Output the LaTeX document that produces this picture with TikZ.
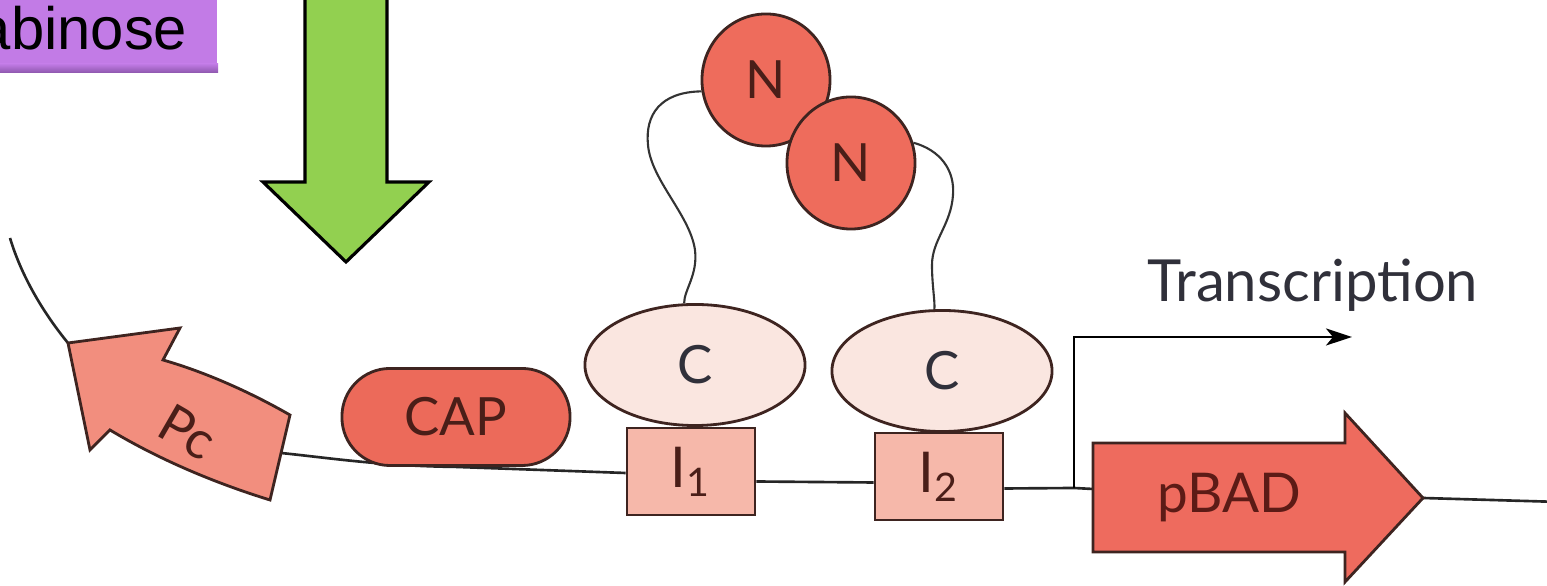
\documentclass[tikz,border=0pt]{standalone}
\usepackage{fontspec}
\setmainfont{Lato}
\newfontfamily\arialfont{Liberation Sans}
\usepackage{tikz}
\definecolor{sugarpurple}{HTML}{C27BE6}
\definecolor{sugarshade}{HTML}{8E58AE}
\definecolor{arrowgreen}{HTML}{92D050}
\definecolor{rim}{HTML}{3E2420}
\definecolor{nred}{HTML}{EE6C5C}
\definecolor{capred}{HTML}{EC6A5A}
\definecolor{cpink}{HTML}{FAE6E0}
\definecolor{ipink}{HTML}{F6B8AA}
\definecolor{pcsalmon}{HTML}{F28E7E}
\definecolor{pbred}{HTML}{EE6B5E}
\definecolor{inkbrown}{HTML}{4A1E18}
\definecolor{inkgrey}{HTML}{30303A}
\usetikzlibrary{positioning, arrows, arrows.meta, shapes.geometric, backgrounds}
\tikzstyle{arrow} = [line width=0.75pt,->,>={Stealth[length=0.26cm,width=0.17cm,inset=0.07cm]}]

\begin{document}
\begin{tikzpicture}[x=0.01cm, y=-0.01cm]
                    \tikzstyle{every node}=[font=\fontsize{15}{18}\selectfont, text=inkbrown]
                    \tikzstyle{nterm} = [ellipse, draw=rim, fill=nred, line width=0.8pt, minimum width=1.28cm, minimum height=1.32cm, inner sep=0pt]
                    \tikzstyle{cterm} = [ellipse, draw=rim, fill=cpink, line width=0.8pt, minimum width=2.2cm, minimum height=1.21cm, inner sep=0pt, text=inkgrey]
                    \tikzstyle{site} = [rectangle, draw=rim, fill=ipink, line width=0.8pt, minimum width=1.28cm, minimum height=0.87cm, inner sep=0pt, font=\fontsize{16}{18}\selectfont]
                    \tikzstyle{capbox} = [rectangle, rounded corners=0.48cm, draw=rim, fill=capred, line width=0.8pt, minimum width=2.28cm, minimum height=0.97cm]
                    \tikzstyle{dna} = [line width=0.75pt, draw=black!85]
                    \tikzstyle{linker} = [line width=0.6pt, draw=black!80]

                    \useasboundingbox (0,0) rectangle (1547,586);
                    \clip (0,0) rectangle (1547,586);

                    % sugar tag, runs off the left edge
                    \node[fill=sugarpurple, text=black, font=\arialfont\fontsize{17}{20}\selectfont, anchor=base east, inner xsep=0.3cm, inner ysep=0pt, text height=0.7cm, text depth=0.22cm] (sugar) at (218,50) {abinose};
                    \shade[top color=sugarpurple, bottom color=sugarshade] ([yshift=0.09cm]sugar.south west) rectangle (sugar.south east);

                    % big green block arrow
                    \draw[line width=0.9pt, fill=arrowgreen] (305,-10) -- (305,182) -- (263,182) -- (346,262) -- (429,182) -- (387,182) -- (387,-10) -- cycle;

                    % Pc promoter, bent arrow pointing back
                    \coordinate (pc-tip) at (68,343);
                    \coordinate (pc-tail) at (281,453);
                    \draw[line width=0.8pt, draw=rim, fill=pcsalmon] (pc-tip) -- (180,328) -- (163,360) .. controls (205,372) and (250,392) .. (290,415) -- (270,500) .. controls (215,483) and (160,460) .. (110,430) -- (90,450) -- cycle;
                    \node[rotate=-30] (pc) at (188,432) {Pc};

                    % proteins on the DNA
                    \node[capbox] (cap) at (456,417) {CAP};
                    \node[cterm] (c1) at (695,365) {C};
                    \node[cterm] (c2) at (942,371) {C};
                    \node[site] (i1) at (691,471.5) {I\textsubscript{1}};
                    \node[site] (i2) at (939,476.5) {I\textsubscript{2}};
                    \node[nterm] (n1) at (766,80) {N};
                    \node[nterm] (n2) at (851,163) {N};

                    % linkers between N and C domains
                    \draw[linker] (n1.190) .. controls (660,92) and (645,115) .. (648,145) .. controls (651,180) and (690,215) .. (695,250) .. controls (698,275) and (684,290) .. (c1.100);
                    \draw[linker] (n2.18) .. controls (940,150) and (955,170) .. (953,195) .. controls (951,225) and (932,240) .. (932,265) .. controls (932,285) and (935,300) .. (c2.97);

                    % pBAD gene
                    \coordinate (pb-in) at (1093,489);
                    \coordinate (pb-tip) at (1423,498);
                    \draw[line width=0.8pt, draw=rim, fill=pbred] (1093,443) -- (1345,443) -- (1345,413) -- (pb-tip) -- (1345,582) -- (1345,552) -- (1093,552) -- cycle;
                    \node[anchor=base, font=\fontsize{15.6}{18}\selectfont, text=inkbrown!90!red] (pbad) at (1229,513) {pBAD};

                    % transcription start
                    \coordinate (tss) at (1074,488);
                    \coordinate (tx-end) at (1352,337);
                    \draw[arrow] (tss) |- (tx-end);
                    \node[anchor=base west, font=\fontsize{16.5}{18}\selectfont, text=inkgrey] (tx) at (1135,302) {Transcription};

                    % the DNA strand
                    \coordinate (dna-start) at (10,238);
                    \coordinate (dna-end) at (1560,502);
                    \begin{scope}[on background layer]
                        \draw[dna] (dna-start) .. controls (22,278) and (45,315) .. (pc-tip);
                        \draw[dna] (pc-tail) .. controls (330,458) and (380,466) .. (cap.south) -- ([yshift=-0.015cm]i1.west);
                        \draw[dna] ([yshift=-0.1cm]i1.east) -- ([yshift=-0.06cm]i2.west);
                        \draw[dna] ([yshift=-0.12cm]i2.east) -- (tss) -- (pb-in);
                        \draw[dna] (pb-tip) -- (dna-end);
                    \end{scope}
\end{tikzpicture}
\end{document}
